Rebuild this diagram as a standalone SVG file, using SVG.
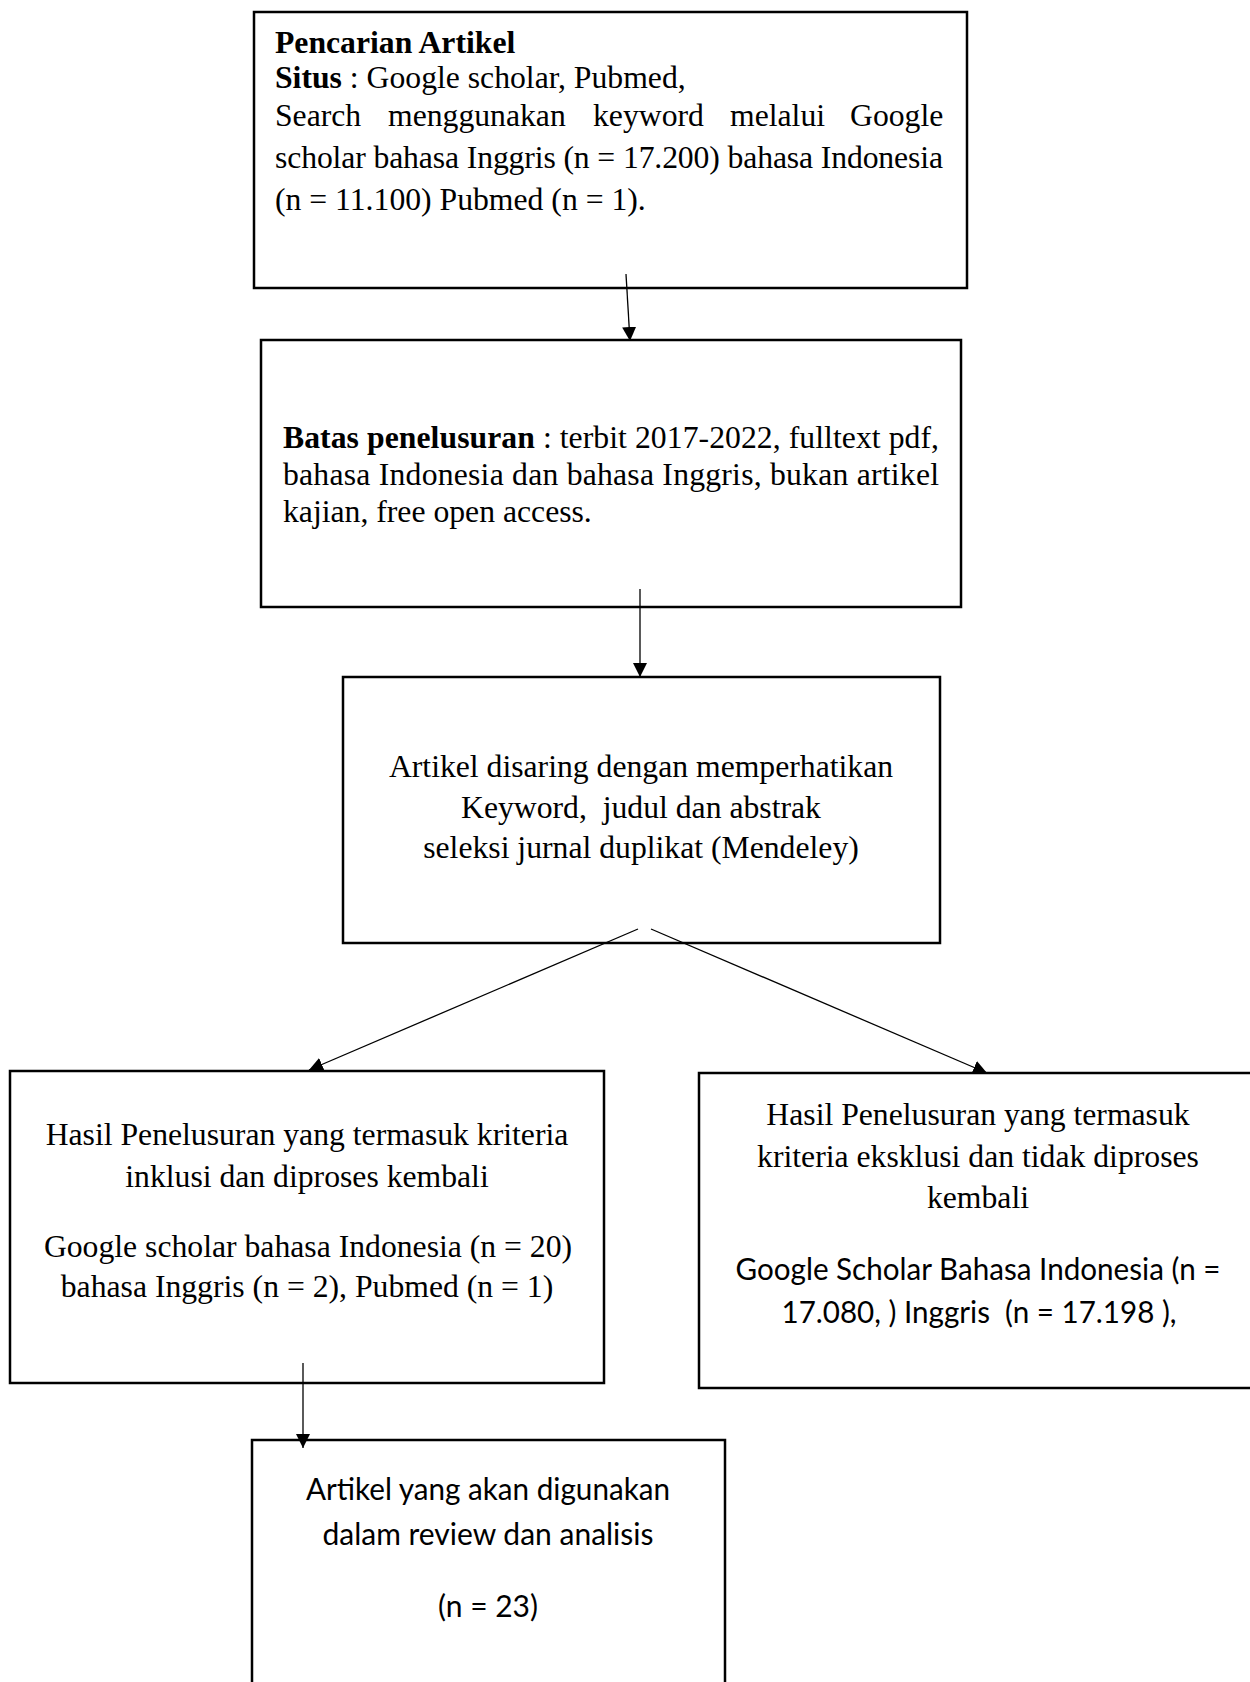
<svg xmlns="http://www.w3.org/2000/svg" width="1250" height="1682" viewBox="0 0 1250 1682">
<style>
.box{fill:#fff;stroke:#000;stroke-width:2.5}
.serif{font-family:"Liberation Serif","Times New Roman",serif;font-size:31.7px;fill:#000}
.sans{font-family:Lato,"Liberation Sans",sans-serif;font-size:30px;fill:#000}
.b{font-weight:bold}
.c{text-anchor:middle}
.con{stroke:#000;stroke-width:1.3;fill:none;marker-end:url(#arr)}
</style>
<defs>
<marker id="arr" markerUnits="userSpaceOnUse" markerWidth="14" markerHeight="14" refX="14" refY="7" orient="auto">
<path d="M0,0 L14,7 L0,14 z" fill="#000"/>
</marker>
</defs>
<rect width="1250" height="1682" fill="#fff"/>

<g id="node-pencarian">
<rect class="box" x="254" y="12" width="713" height="276"/>
<text class="serif b" x="275" y="53">Pencarian Artikel</text>
<text class="serif" x="275" y="88"><tspan class="b">Situs</tspan> : Google scholar, Pubmed,</text>
<text class="serif" y="126"><tspan x="275">Search</tspan><tspan x="388">menggunakan</tspan><tspan x="593">keyword</tspan><tspan x="730">melalui</tspan><tspan x="850">Google</tspan></text>
<text class="serif" x="275" y="168" textLength="668" lengthAdjust="spacing">scholar bahasa Inggris (n = 17.200) bahasa Indonesia</text>
<text class="serif" x="275" y="210">(n = 11.100) Pubmed (n = 1).</text>
</g>

<g id="node-batas">
<rect class="box" x="261" y="340" width="700" height="267"/>
<text class="serif" x="283" y="448" textLength="656" lengthAdjust="spacing"><tspan class="b">Batas penelusuran</tspan> : terbit 2017-2022, fulltext pdf,</text>
<text class="serif" x="283" y="485" textLength="656" lengthAdjust="spacing">bahasa Indonesia dan bahasa Inggris, bukan artikel</text>
<text class="serif" x="283" y="522">kajian, free open access.</text>
</g>

<g id="node-disaring">
<rect class="box" x="343" y="677" width="597" height="266"/>
<text class="serif c" x="641" y="777">Artikel disaring dengan memperhatikan</text>
<text class="serif c" x="641" y="818" xml:space="preserve">Keyword,  judul dan abstrak</text>
<text class="serif c" x="641" y="858">seleksi jurnal duplikat (Mendeley)</text>
</g>

<g id="node-inklusi">
<rect class="box" x="10" y="1071" width="594" height="312"/>
<text class="serif c" x="307" y="1145">Hasil Penelusuran yang termasuk kriteria</text>
<text class="serif c" x="307" y="1187">inklusi dan diproses kembali</text>
<text class="serif c" x="308" y="1257">Google scholar bahasa Indonesia (n = 20)</text>
<text class="serif c" x="307" y="1297">bahasa Inggris (n = 2), Pubmed (n = 1)</text>
</g>

<g id="node-eksklusi">
<rect class="box" x="699" y="1073" width="580" height="315"/>
<text class="serif c" x="978" y="1125">Hasil Penelusuran yang termasuk</text>
<text class="serif c" x="978" y="1167">kriteria eksklusi dan tidak diproses</text>
<text class="serif c" x="978" y="1208">kembali</text>
<text class="sans c" x="978" y="1280" textLength="485" lengthAdjust="spacingAndGlyphs">Google Scholar Bahasa Indonesia (n =</text>
<text class="sans c" x="979" y="1323" xml:space="preserve" textLength="395" lengthAdjust="spacingAndGlyphs">17.080, ) Inggris  (n = 17.198 ),</text>
</g>

<g id="node-hasil">
<rect class="box" x="252" y="1440" width="473" height="260"/>
<text class="sans c" x="488" y="1500" textLength="364" lengthAdjust="spacingAndGlyphs">Artikel yang akan digunakan</text>
<text class="sans c" x="488" y="1545" textLength="331" lengthAdjust="spacingAndGlyphs">dalam review dan analisis</text>
<text class="sans c" x="488" y="1617">(n = 23)</text>
</g>

<g id="connectors">
<line class="con" x1="626" y1="274" x2="630" y2="341"/>
<line class="con" x1="640" y1="589" x2="640" y2="677"/>
<line class="con" x1="638" y1="929" x2="309" y2="1070"/>
<line class="con" x1="651" y1="929" x2="987" y2="1073"/>
<line class="con" x1="303" y1="1363" x2="303" y2="1448"/>
</g>
</svg>
